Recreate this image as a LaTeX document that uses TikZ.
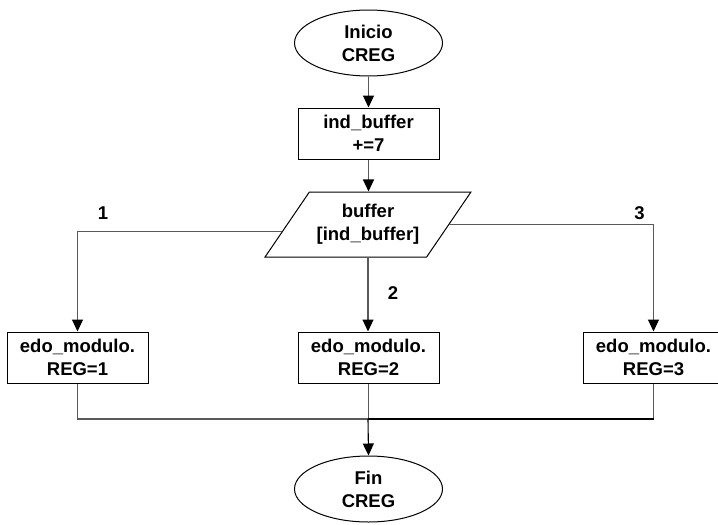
\documentclass[tikz,border=0pt]{standalone}
\usepackage{fontspec}
\setmainfont{Liberation Sans}
\usetikzlibrary{shapes.geometric,arrows.meta,calc}

\tikzset{
  base/.style={draw=black, line width=1pt, fill=white, inner sep=0pt, align=center,
    font=\fontsize{18.5}{23}\selectfont\bfseries},
  terminal/.style={base, ellipse, minimum width=148pt, minimum height=66pt},
  process/.style={base, rectangle, minimum width=141pt, minimum height=51pt},
  iobox/.style={base, trapezium, trapezium left angle=46, trapezium right angle=134,
    trapezium stretches=true, minimum width=206pt, minimum height=65pt},
  branchlabel/.style={font=\fontsize{18.5}{22}\selectfont\bfseries, inner sep=0pt},
  flow/.style={draw=black!65, line width=1.1pt},
  flowdark/.style={draw=black, line width=1.1pt},
  tip/.style={-{Triangle[width=11pt,length=12pt,color=black]}}
}

\begin{document}
\begin{tikzpicture}[x=1pt,y=-1pt]
  \path[use as bounding box, clip] (0,0) rectangle (718,525);

  % main column
  \node[terminal] (start) at (368.5,43) {Inicio\\CREG};
  \node[process] (incr) at (368.5,133.5) {ind\_buffer\\ +=7};
  \node[iobox] (read) at (368,224.5) {buffer\\{[}ind\_buffer{]}};

  % three branches
  \node[process] (reg1) at (77.5,357.5) {edo\_modulo.\\REG=1};
  \node[process] (reg2) at (368.5,357.5) {edo\_modulo.\\REG=2};
  \node[process] (reg3) at (653.5,357.5) {edo\_modulo.\\REG=3};

  \node[terminal] (finish) at (368.5,489) {Fin\\CREG};

  % branch labels
  \node[branchlabel] (l1) at (103,213) {1};
  \node[branchlabel] (l2) at (393,293) {2};
  \node[branchlabel] (l3) at (639.5,213) {3};

  % exits from the sides of the input box
  \coordinate (outL) at ($(read.bottom left corner)!0.4!(read.top left corner)$);
  \coordinate (outR) at (read.right side);
  \coordinate (join) at (368,419);

  % connectors
  \draw[flow,tip] (start.south) -- (incr.north);
  \draw[flow,tip] (incr.south) -- (incr.south |- read.north);
  \draw[flow,tip] (outL) -| (reg1.north);
  \draw[flow,tip] (outR) -| (reg3.north);
  \draw[flow,tip] (read.south) -- (read.south |- reg2.north);

  \draw[flow] (reg1.south) |- (join);
  \draw[flow] (reg2.south) -- (reg2.south |- join);
  \draw[flow] (reg3.south) -- (reg3.south |- join);
  \draw[flowdark] (reg3.south |- join) -- (join);
  \draw[flowdark,tip] (join) -- (finish.north);
\end{tikzpicture}
\end{document}
